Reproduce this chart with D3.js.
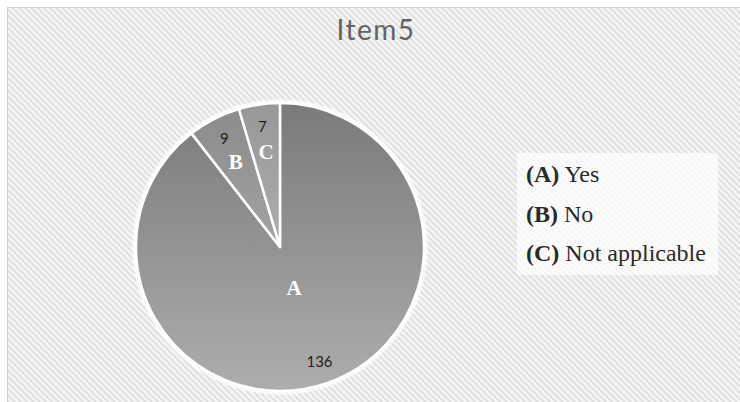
<!DOCTYPE html>
<html><head><meta charset="utf-8">
<script src="https://cdn.jsdelivr.net/npm/d3@7"></script>
<style>html,body{margin:0;padding:0;background:#fff;}svg{display:block;}</style>
</head><body>
<svg id="chart" width="740" height="402"></svg>
<script>
const title = "Item5";
const categories = ["A", "B", "C"];
const legendLabels = ["Yes", "No", "Not applicable"];
const values = [136, 9, 7];
const topColors = ["#7a7a7a", "#8a8a8a", "#979797"];
const bottomColors = ["#adadad", "#bcbcbc", "#c6c6c6"];

const W = 740, H = 402;
const svg = d3.select("#chart");
const defs = svg.append("defs");

// hatch pattern background
const pat = defs.append("pattern").attr("id", "hatch")
  .attr("patternUnits", "userSpaceOnUse").attr("width", 4.4).attr("height", 4.4)
  .attr("patternTransform", "rotate(45)");
pat.append("rect").attr("width", 4.4).attr("height", 4.4).attr("fill", "#f6f6f6");
pat.append("rect").attr("width", 4.4).attr("height", 2).attr("fill", "#dfdfdf");

svg.append("rect").attr("x", 7.5).attr("y", 7.5).attr("width", W).attr("height", H)
  .attr("fill", "url(#hatch)").attr("stroke", "#d0d0d0").attr("stroke-width", 1);

// title
svg.append("text").attr("x", 376).attr("y", 40).attr("text-anchor", "middle")
  .attr("font-family", "Lato, 'Open Sans', sans-serif").attr("font-size", 28)
  .attr("letter-spacing", 1.5)
  .attr("fill", "#636363").text(title);

// pie
const cx = 280, cy = 247, R = 144;
const g = svg.append("g").attr("transform", `translate(${cx},${cy})`);
const pie = d3.pie().sort(null).value(d => d);
const arcs = pie(values);
const arc = d3.arc().innerRadius(0).outerRadius(R);

categories.forEach((c, i) => {
  const lg = defs.append("linearGradient").attr("id", "grad" + i)
    .attr("gradientUnits", "userSpaceOnUse")
    .attr("x1", 0).attr("y1", -R).attr("x2", 0).attr("y2", R);
  lg.append("stop").attr("offset", 0).attr("stop-color", topColors[i]);
  lg.append("stop").attr("offset", 1).attr("stop-color", bottomColors[i]);
});

// soft white halo
g.append("circle").attr("r", R + 2).attr("fill", "none")
  .attr("stroke", "#ffffff").attr("stroke-opacity", 0.7).attr("stroke-width", 3.5);

g.selectAll("path.slice").data(arcs).enter().append("path")
  .attr("class", "slice").attr("d", arc)
  .attr("fill", (d, i) => `url(#grad${i})`)
  .attr("stroke", "#ffffff").attr("stroke-width", 2.5).attr("stroke-linejoin", "round");

// value labels
const valArc = d3.arc().innerRadius(R * 0.845).outerRadius(R * 0.845);
g.selectAll("text.val").data(arcs).enter().append("text")
  .attr("class", "val")
  .attr("transform", d => `translate(${valArc.centroid(d)})`)
  .attr("text-anchor", "middle").attr("dy", "0.35em")
  .attr("font-family", "Lato, 'Open Sans', sans-serif").attr("font-size", 15)
  .attr("fill", "#1e1e1e").text(d => d.data);

// category letters
const letterRadius = [0.3, 0.67, 0.67];
g.selectAll("text.cat").data(arcs).enter().append("text")
  .attr("class", "cat")
  .attr("transform", (d, i) => {
    const a = d3.arc().innerRadius(R * letterRadius[i]).outerRadius(R * letterRadius[i]);
    return `translate(${a.centroid(d)})`;
  })
  .attr("text-anchor", "middle").attr("dy", "0.35em")
  .attr("font-family", "'Liberation Serif', 'Times New Roman', serif")
  .attr("font-weight", "bold").attr("font-size", 21)
  .attr("fill", "#ffffff").text((d, i) => categories[i]);

// legend
const lgX = 517, lgY = 153, lgW = 201, lgH = 122;
svg.append("rect").attr("x", lgX).attr("y", lgY).attr("width", lgW).attr("height", lgH)
  .attr("fill", "#ffffff").attr("fill-opacity", 0.7);
const ly = d3.scalePoint().domain(categories).range([182, 261]);
const items = svg.selectAll("text.leg").data(categories).enter().append("text")
  .attr("class", "leg")
  .attr("x", 526).attr("y", d => ly(d))
  .attr("font-family", "'Liberation Serif', 'Times New Roman', serif")
  .attr("font-size", 24).attr("fill", "#2a2a2a");
items.append("tspan").attr("font-weight", "bold").text(d => `(${d})`);
items.append("tspan").text((d, i) => " " + legendLabels[i]);
</script>
</body></html>
